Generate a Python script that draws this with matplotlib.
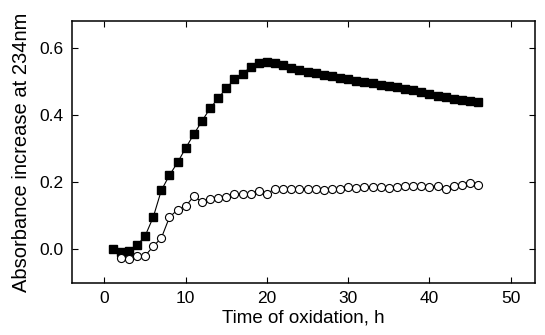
import numpy as np
import matplotlib
matplotlib.use("Agg")
import matplotlib.pyplot as plt

plt.rcParams["font.family"] = ["Liberation Sans", "DejaVu Sans"]

# filled squares: hourly readings 1..46 h
t_sq = list(range(1, 47))
a_sq = [0.002, -0.008, -0.005, 0.012, 0.040, 0.096, 0.176, 0.221, 0.259, 0.302,
        0.343, 0.382, 0.420, 0.450, 0.480, 0.507, 0.522, 0.544, 0.556, 0.557,
        0.555, 0.548, 0.540, 0.533, 0.528, 0.524, 0.520, 0.516, 0.511, 0.506,
        0.502, 0.498, 0.494, 0.490, 0.487, 0.483, 0.479, 0.474, 0.468, 0.463,
        0.458, 0.453, 0.449, 0.446, 0.443, 0.438]

# open circles: hourly readings 2..46 h
t_ci = list(range(2, 47))
a_ci = [-0.026, -0.030, -0.021, -0.019, 0.009, 0.034, 0.096, 0.118, 0.128, 0.159,
        0.141, 0.151, 0.154, 0.156, 0.164, 0.164, 0.166, 0.174, 0.166, 0.181,
        0.180, 0.180, 0.179, 0.179, 0.179, 0.176, 0.181, 0.181, 0.186, 0.183,
        0.186, 0.186, 0.186, 0.183, 0.186, 0.188, 0.190, 0.188, 0.186, 0.190,
        0.180, 0.190, 0.192, 0.197, 0.192]

fig = plt.figure(figsize=(5.45, 3.35), dpi=100)
ax = fig.add_axes([72/545, 1 - 283/335, (535-72)/545, (283-21)/335])

ax.plot(t_sq, a_sq, "-s", color="black", lw=0.8, ms=5.8, mfc="black", mec="black")
ax.plot(t_ci, a_ci, "-o", color="black", lw=0.8, ms=5.8, mfc="white", mec="black", mew=0.8)

ax.set_xlim(-4, 53)
ax.set_ylim(-0.1, 0.68)
ax.set_xticks([0, 10, 20, 30, 40, 50])
ax.set_yticks([0.0, 0.2, 0.4, 0.6])
ax.yaxis.set_major_formatter(matplotlib.ticker.FormatStrFormatter("%.1f"))
ax.tick_params(direction="in", top=True, right=True, length=4, width=0.8,
               labelsize=12.5, pad=6)
for s in ax.spines.values():
    s.set_linewidth(1.1)

ax.set_xlabel("Time of oxidation, h", fontsize=13.5, labelpad=2)
ax.set_ylabel("Absorbance increase at 234nm", fontsize=14.5, labelpad=6)

fig.savefig("out.png", dpi=100)
